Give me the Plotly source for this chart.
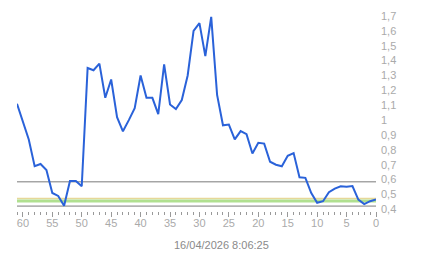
import plotly.graph_objects as go

t_ago = list(range(61, -1, -1))
values = [1.11, 0.99, 0.87, 0.69, 0.705, 0.665, 0.51, 0.49, 0.424, 0.59,
          0.59, 0.555, 1.35, 1.335, 1.38, 1.15, 1.273, 1.02, 0.925, 1.0,
          1.08, 1.30, 1.15, 1.15, 1.04, 1.375, 1.105, 1.075, 1.135, 1.30,
          1.60, 1.652, 1.43, 1.694, 1.17, 0.965, 0.97, 0.87, 0.926, 0.905,
          0.776, 0.848, 0.842, 0.72, 0.70, 0.69, 0.76, 0.778, 0.616, 0.612,
          0.51, 0.444, 0.455, 0.515, 0.54, 0.555, 0.552, 0.557, 0.466, 0.435,
          0.455, 0.466]

ref_lines = [0.585, 0.422]
yellow_level = 0.473
green_level = 0.457
timestamp = "16/04/2026 8:06:25"

fig = go.Figure()
fig.add_trace(go.Scatter(x=t_ago, y=values, mode="lines",
                         line=dict(color="#2a62d9", width=2), hoverinfo="skip"))

for lv in ref_lines:
    fig.add_shape(type="line", xref="x", yref="y", x0=61, x1=0, y0=lv, y1=lv,
                  line=dict(color="#7a7a7a", width=1), layer="below")
fig.add_shape(type="line", xref="x", yref="y", x0=61, x1=0, y0=yellow_level, y1=yellow_level,
              line=dict(color="#e6d898", width=1.5), layer="below")
fig.add_shape(type="line", xref="x", yref="y", x0=61, x1=0, y0=green_level, y1=green_level,
              line=dict(color="#b0e090", width=3), layer="below")

fig.add_annotation(text=timestamp, xref="paper", yref="paper", x=0.5696, y=-0.17,
                   showarrow=False, xanchor="center", yanchor="middle",
                   font=dict(size=11, color="#8a8a8a"))

fig.update_layout(
    width=443, height=258,
    margin=dict(l=17, r=67, t=10, b=47),
    paper_bgcolor="white", plot_bgcolor="white",
    showlegend=False,
    separators=", ",
    font=dict(family="Liberation Sans, Arial, sans-serif", size=11, color="#aaaaaa"),
    xaxis=dict(range=[61, 0], showgrid=False, zeroline=False, showline=False,
               tickmode="linear", tick0=0, dtick=5, ticks="outside", ticklen=5,
               tickcolor="#999999", tickwidth=1, ticklabelstandoff=-3,
               minor=dict(dtick=1, ticks="outside", ticklen=3, tickcolor="#999999", tickwidth=1),
               tickfont=dict(size=11, color="#aaaaaa")),
    yaxis=dict(range=[0.389, 1.72], side="right", showgrid=False, zeroline=False,
               showline=False, tickmode="linear", tick0=0.4, dtick=0.1, ticks="",
               ticklabelstandoff=4,
               tickfont=dict(size=11, color="#aaaaaa")),
)

fig.write_html("out.html")
